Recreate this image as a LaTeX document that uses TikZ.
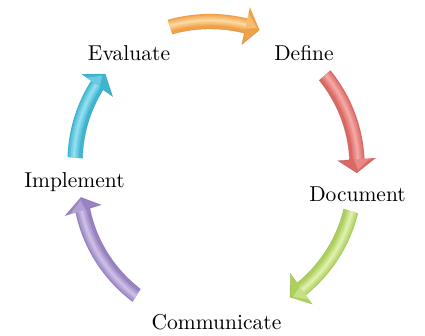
\documentclass[tikz,border=0pt]{standalone}
\usepackage{fontspec}
\setmainfont{lmroman10-regular.otf}
\definecolor{orgB}{RGB}{240,160,70}
\definecolor{orgL}{RGB}{255,225,170}
\definecolor{redB}{RGB}{220,104,100}
\definecolor{redL}{RGB}{248,178,174}
\definecolor{grnB}{RGB}{172,208,94}
\definecolor{grnL}{RGB}{232,245,185}
\definecolor{purB}{RGB}{152,130,194}
\definecolor{purL}{RGB}{212,200,236}
\definecolor{cyaB}{RGB}{62,180,208}
\definecolor{cyaL}{RGB}{160,230,244}
\tikzset{lbl/.style={font=\fontsize{21.5}{24}\selectfont, anchor=base, inner sep=0pt, text=black}}
% #1 base colour, #2 tail angle, #3 tail radius, #4 tip angle, #5 tip radius, #6 light colour
\newcommand{\cycarrow}[6]{%
  \pgfmathsetmacro{\ah}{#4+5.5}%
  \pgfmathsetmacro{\rh}{#3+(#5-(#3))*(\ah-(#2))/(#4-(#2))}%
  \fill[#1] plot[domain=#2:\ah,samples=40] (\x:{#3+(#5-(#3))*(\x-(#2))/(#4-(#2))+7.5})
    -- (\ah:{\rh+19}) -- (#4:#5) -- (\ah:{\rh-19})
    -- plot[domain=\ah:#2,samples=40] (\x:{#3+(#5-(#3))*(\x-(#2))/(#4-(#2))-7.5}) -- cycle;
  \foreach \lw/\op in {10/0.3,6.5/0.35,3.5/0.45,1.5/0.5}{%
    \draw[#6, line width=\lw pt, opacity=\op] plot[domain=#2:\ah,samples=40] (\x:{#3+(#5-(#3))*(\x-(#2))/(#4-(#2))+1});}
  \fill[#6, opacity=0.45] (\ah:{\rh+13}) -- ({#4+1.2}:{#5+1}) -- (\ah:{\rh-3}) -- cycle;
  \draw[#1!75!black, line width=0.6pt, opacity=0.45] plot[domain=#2:\ah,samples=40] (\x:{#3+(#5-(#3))*(\x-(#2))/(#4-(#2))-7.5})
    -- (\ah:{\rh-19}) -- (#4:#5);
}
\begin{document}
\begin{tikzpicture}[x=1pt,y=1pt]
\useasboundingbox (0,0) rectangle (425,335);
\begin{scope}[shift={(215,165)}]
  \cycarrow{orgB}{107.5}{150}{72.4}{147}{orgL}
  \cycarrow{redB}{40.8}{145}{-1.2}{142}{redL}
  \cycarrow{grnB}{-16.8}{142}{-59.5}{148}{grnL}
  \cycarrow{purB}{238}{148}{191.5}{137}{purL}
  \cycarrow{cyaB}{175}{140.5}{138.8}{146}{cyaL}
\end{scope}
\node[lbl] (def) at (304,274) {Define};
\node[lbl] (eva) at (129,274) {Evaluate};
\node[lbl] (doc) at (357.5,134) {Document};
\node[lbl] (imp) at (74.5,148) {Implement};
\node[lbl] (com) at (216.5,6) {Communicate};
\end{tikzpicture}
\end{document}
